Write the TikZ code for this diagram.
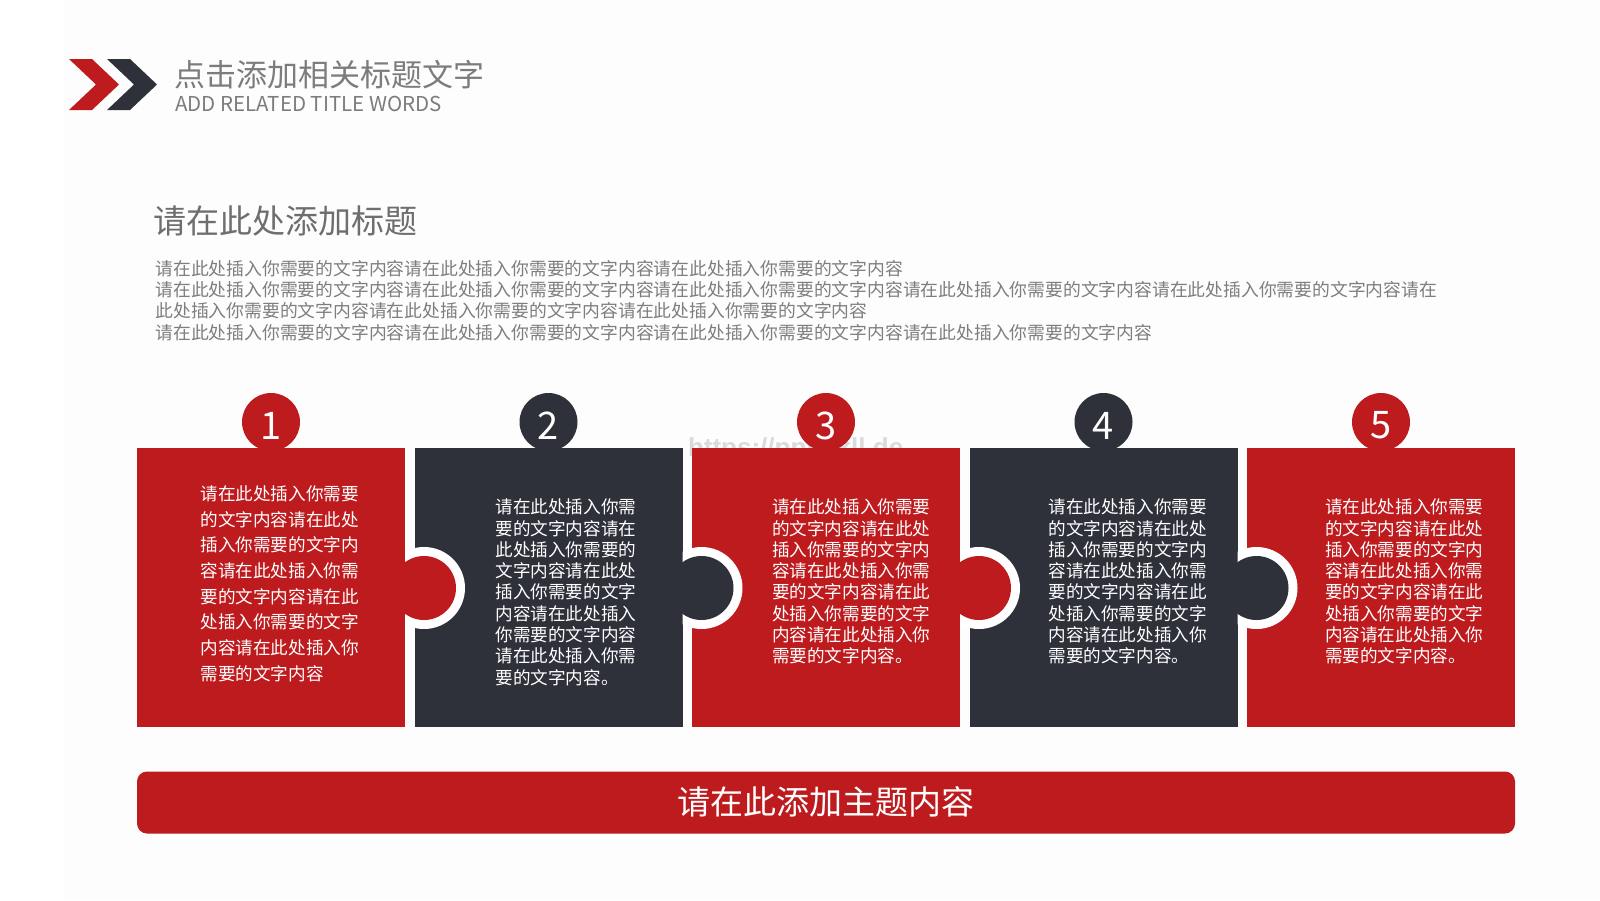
\documentclass[tikz,border=0pt]{standalone}
\usepackage{fontspec}
\newfontfamily\cjk{Noto Sans CJK SC}
\newfontfamily\wmfont{Liberation Sans}
\definecolor{pzred}{HTML}{BE1B1E}
\definecolor{pzdark}{HTML}{2E303A}
\definecolor{bgtint}{HTML}{FDFDFD}
\definecolor{titlegray}{HTML}{7C7C7C}
\definecolor{subgray}{HTML}{6E6E6E}
\definecolor{paragray}{HTML}{7E7E7E}
\definecolor{wmgray}{HTML}{DADADA}
\tikzset{
  txt/.style={inner sep=0pt, outer sep=0pt},
  titletext/.style={txt, anchor=base west, text=titlegray, font=\cjk\fontsize{31}{31}\selectfont},
  entext/.style={txt, anchor=base west, text=titlegray, font=\cjk\fontsize{20.5}{21}\selectfont},
  subtext/.style={txt, anchor=base west, text=subgray, font=\cjk\fontsize{33}{33}\selectfont},
  paratext/.style={txt, anchor=base west, text=paragray, font=\cjk\fontsize{17.8}{18}\selectfont},
  boxtext/.style={txt, anchor=base west, text=white, font=\cjk\fontsize{17.6}{18}\selectfont},
  numtext/.style={txt, text=white, font=\cjk\fontsize{38}{38}\selectfont},
  bartext/.style={txt, anchor=base, text=white, font=\cjk\fontsize{33}{33}\selectfont},
  wmtext/.style={txt, anchor=base west, text=wmgray, font=\wmfont\bfseries\fontsize{26}{26}\selectfont}
}
\begin{document}
\begin{tikzpicture}[x=1pt,y=-1pt]
\useasboundingbox (0,0) rectangle (1600,900);
\fill[white] (0,0) rectangle (1600,900);
\fill[bgtint] (64,0) rectangle (1600,900);

% header chevrons
\fill[pzred] (69,59) -- (92,59) -- (119,84.5) -- (92,110) -- (69,110) -- (96,84.5) -- cycle;
\fill[pzdark] (107,59) -- (130,59) -- (157,84.5) -- (130,110) -- (107,110) -- (134,84.5) -- cycle;

\node[titletext] (title) at (174,86.1) {点击添加相关标题文字};
\node[entext] (titleen) at (175,111) {ADD RELATED TITLE WORDS};

\node[subtext] (subtitle) at (153.5,233.4) {请在此处添加标题};
\node[paratext] (p1) at (155.5,275.1) {请在此处插入你需要的文字内容请在此处插入你需要的文字内容请在此处插入你需要的文字内容};
\node[paratext] (p2) at (155.5,296.5) {请在此处插入你需要的文字内容请在此处插入你需要的文字内容请在此处插入你需要的文字内容请在此处插入你需要的文字内容请在此处插入你需要的文字内容请在};
\node[paratext] (p3) at (155.5,317.9) {此处插入你需要的文字内容请在此处插入你需要的文字内容请在此处插入你需要的文字内容};
\node[paratext] (p4) at (155.5,339.4) {请在此处插入你需要的文字内容请在此处插入你需要的文字内容请在此处插入你需要的文字内容请在此处插入你需要的文字内容};

% watermark (behind pieces)
\node[wmtext] (wm) at (688,456) {https://ppt.ykll.de};

% puzzle boxes and number tabs
\foreach \i/\col/\num in {0/pzred/1,1/pzdark/2,2/pzred/3,3/pzdark/4,4/pzred/5}{
  \pgfmathsetmacro\L{137+\i*277.5}
  \fill[\col] (\L,448) rectangle ({\L+268},727);
  \fill[\col] ({\L+134},422) circle (29);
  \node[numtext] (n\num) at ({\L+134},425.5) {\num};
}
% side knobs
\foreach \i/\col in {0/pzred,1/pzdark,2/pzred,3/pzdark}{
  \pgfmathsetmacro\R{137+\i*277.5+268}
  \begin{scope}
    \clip (\R,540) rectangle ({\R+60},640);
    \fill[white] ({\R+19},588) circle (41);
  \end{scope}
  \fill[\col] ({\R+19},588) circle (32);
}

% box texts
\foreach \t [count=\k from 0] in {请在此处插入你需要,的文字内容请在此处,插入你需要的文字内,容请在此处插入你需,要的文字内容请在此,处插入你需要的文字,内容请在此处插入你,需要的文字内容}
  \node[boxtext] (a\k) at (200.5,{500.5+\k*25.65}) {\t};
\foreach \t [count=\k from 0] in {请在此处插入你需,要的文字内容请在,此处插入你需要的,文字内容请在此处,插入你需要的文字,内容请在此处插入,你需要的文字内容,请在此处插入你需,要的文字内容。}
  \node[boxtext] (b\k) at (495.5,{513.7+\k*21.3}) {\t};
\foreach \x/\nm in {772/c,1048.5/d,1325/e}{
  \foreach \t [count=\k from 0] in {请在此处插入你需要,的文字内容请在此处,插入你需要的文字内,容请在此处插入你需,要的文字内容请在此,处插入你需要的文字,内容请在此处插入你,需要的文字内容。}
    \node[boxtext] (\nm\k) at (\x,{513.7+\k*21.3}) {\t};
}

% bottom bar
\fill[pzred, rounded corners=10] (137,771.5) rectangle (1515,833.5);
\node[bartext] (bar) at (826,814.9) {请在此添加主题内容};
\end{tikzpicture}
\end{document}
